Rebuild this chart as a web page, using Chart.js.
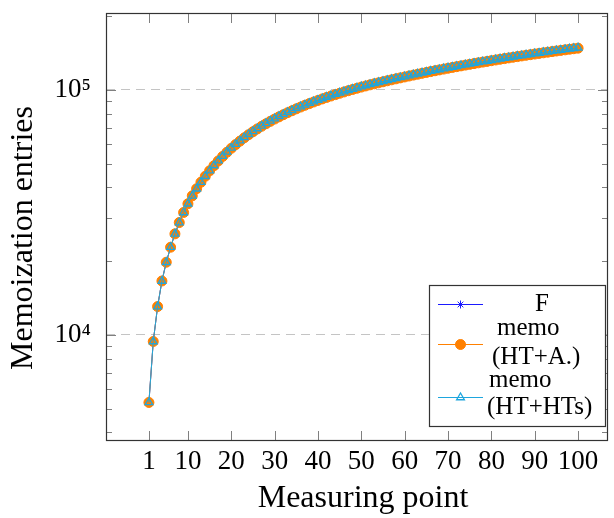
<!DOCTYPE html>
<html>
<head>
<meta charset="utf-8">
<script src="https://cdn.jsdelivr.net/npm/chart.js@4/dist/chart.umd.min.js"></script>
<style>
  body { margin: 0; background: #fff; }
  canvas { display: block; }
</style>
</head>
<body>
<canvas id="chart" width="614" height="518"></canvas>
<script>
// measuring points 1..100
const measurePoints = [
  1, 2, 3, 4, 5, 6, 7, 8, 9, 10, 11, 12, 13, 14, 15, 16, 17, 18, 19, 20,
  21, 22, 23, 24, 25, 26, 27, 28, 29, 30, 31, 32, 33, 34, 35, 36, 37, 38, 39, 40,
  41, 42, 43, 44, 45, 46, 47, 48, 49, 50, 51, 52, 53, 54, 55, 56, 57, 58, 59, 60,
  61, 62, 63, 64, 65, 66, 67, 68, 69, 70, 71, 72, 73, 74, 75, 76, 77, 78, 79, 80,
  81, 82, 83, 84, 85, 86, 87, 88, 89, 90, 91, 92, 93, 94, 95, 96, 97, 98, 99, 100
];

// memo (HT+HTs)
const htsEntries = [
  5300, 9400, 13050, 16600, 19800, 22800, 25850, 28750, 31600, 34300,
  36950, 39500, 42000, 44420, 46800, 49150, 51420, 53650, 55830, 57950,
  60020, 62040, 64000, 65920, 67780, 69590, 71340, 73050, 74720, 76340,
  77940, 79500, 81040, 82540, 84020, 85460, 86880, 88260, 89620, 90940,
  92250, 93530, 94800, 96040, 97270, 98470, 99660, 100820, 101970, 103090,
  104200, 105280, 106310, 107340, 108360, 109390, 110390, 111400, 112400, 113390,
  114390, 115370, 116340, 117320, 118290, 119250, 120210, 121150, 122100, 123040,
  123970, 124900, 125820, 126730, 127650, 128550, 129460, 130350, 131230, 132120,
  133000, 133870, 134740, 135600, 136450, 137300, 138150, 138980, 139820, 140640,
  141460, 142280, 143090, 143890, 144700, 145490, 146270, 147060, 147840, 148610
];

// F (hidden under the memo series in the picture)
const fEntries = htsEntries.slice();

// memo (HT+A.)
const htaEntries = [
  5300, 9400, 13050, 16600, 19800, 22800, 25850, 28750, 31600, 34300,
  36950, 39500, 42000, 44400, 46750, 49050, 51300, 53500, 55650, 57750,
  59800, 61800, 63750, 65650, 67500, 69300, 71050, 72750, 74410, 76030,
  77620, 79180, 80710, 82210, 83680, 85120, 86530, 87910, 89260, 90580,
  91880, 93160, 94420, 95660, 96880, 98080, 99260, 100420, 101560, 102680,
  103780, 104860, 105890, 106910, 107930, 108950, 109950, 110960, 111950, 112940,
  113930, 114910, 115880, 116850, 117820, 118770, 119730, 120670, 121610, 122550,
  123480, 124400, 125320, 126230, 127140, 128040, 128940, 129830, 130710, 131590,
  132470, 133340, 134200, 135060, 135910, 136750, 137600, 138430, 139260, 140080,
  140900, 141710, 142520, 143320, 144120, 144910, 145690, 146470, 147250, 148020
];

const xTicks = [1, 10, 20, 30, 40, 50, 60, 70, 80, 90, 100];
const yTicks = [10000, 100000];
const yTickLabels = ['10⁴', '10⁵'];
const yMinorTicks = [4000, 5000, 6000, 7000, 8000, 9000,
  20000, 30000, 40000, 50000, 60000, 70000, 80000, 90000, 200000];

const seriesNames = [['F'], ['memo', '(HT+A.)'], ['memo', '(HT+HTs)']];
const xTitle = 'Measuring point';
const yTitle = 'Memoization entries';

const serif = "'Liberation Serif', 'DejaVu Serif', serif";

function toPoints(vals) {
  return measurePoints.map((m, i) => ({x: m, y: vals[i]}));
}

const datasets = [
  {
    label: 'F',
    data: toPoints(fEntries),
    borderColor: '#1a1aff',
    backgroundColor: '#1a1aff',
    borderWidth: 1,
    pointStyle: 'star',
    pointRadius: 4,
    pointBorderWidth: 1,
    order: 3
  },
  {
    label: 'memo (HT+A.)',
    data: toPoints(htaEntries),
    borderColor: '#ff8000',
    backgroundColor: '#ff8000',
    borderWidth: 1,
    pointStyle: 'circle',
    pointRadius: 5,
    pointBorderWidth: 1,
    order: 2
  },
  {
    label: 'memo (HT+HTs)',
    data: toPoints(htsEntries),
    borderColor: '#1ea6de',
    backgroundColor: 'rgba(255,255,255,0)',
    borderWidth: 1,
    pointStyle: 'triangle',
    pointRadius: 4.5,
    pointBorderWidth: 1.3,
    order: 1
  }
];

// axis frame, inside ticks, titles and the legend box
const framePlugin = {
  id: 'framePlugin',
  beforeDatasetsDraw(chart) {
    const {ctx, chartArea: a, scales: {x, y}} = chart;
    ctx.save();
    ctx.strokeStyle = '#808080';
    ctx.lineWidth = 1;
    ctx.beginPath();
    xTicks.forEach(v => {
      const px = Math.round(x.getPixelForValue(v)) + 0.5;
      ctx.moveTo(px, a.bottom); ctx.lineTo(px, a.bottom - 10);
      ctx.moveTo(px, a.top); ctx.lineTo(px, a.top + 10);
    });
    yTicks.forEach(v => {
      const py = Math.round(y.getPixelForValue(v)) + 0.5;
      ctx.moveTo(a.left, py); ctx.lineTo(a.left + 10, py);
      ctx.moveTo(a.right, py); ctx.lineTo(a.right - 10, py);
    });
    yMinorTicks.forEach(v => {
      const py = Math.round(y.getPixelForValue(v)) + 0.5;
      ctx.moveTo(a.left, py); ctx.lineTo(a.left + 6, py);
      ctx.moveTo(a.right, py); ctx.lineTo(a.right - 6, py);
    });
    ctx.stroke();
    ctx.restore();
  },
  afterDraw(chart) {
    const {ctx, chartArea: a} = chart;
    ctx.save();
    ctx.strokeStyle = '#333';
    ctx.lineWidth = 1.2;
    ctx.strokeRect(a.left + 0.5, a.top + 0.5, a.right - a.left - 1, a.bottom - a.top - 1);

    ctx.fillStyle = '#000';
    ctx.font = '32px ' + serif;
    ctx.textAlign = 'center';
    ctx.textBaseline = 'middle';
    ctx.fillText(xTitle, (a.left + a.right) / 2 + 6, 499);
    ctx.translate(24, 238);
    ctx.rotate(-Math.PI / 2);
    ctx.fillText(yTitle, 0, 0);
    ctx.restore();

    // legend
    ctx.save();
    const box = {l: 429.5, t: 285.5, r: 605.5, b: 426.5};
    ctx.fillStyle = '#fff';
    ctx.fillRect(box.l, box.t, box.r - box.l, box.b - box.t);
    ctx.strokeStyle = '#333';
    ctx.lineWidth = 1.2;
    ctx.strokeRect(box.l, box.t, box.r - box.l, box.b - box.t);

    const rows = [
      {lineY: 304, text: [[535, 304]]},
      {lineY: 344, text: [[497, 328], [492, 357]]},
      {lineY: 397, text: [[489, 380], [487, 407]]}
    ];
    rows.forEach((row, i) => {
      const ds = datasets[i];
      ctx.strokeStyle = ds.borderColor;
      ctx.lineWidth = 1;
      ctx.beginPath();
      ctx.moveTo(438, row.lineY + 0.5);
      ctx.lineTo(483, row.lineY + 0.5);
      ctx.stroke();
      ctx.fillStyle = ds.backgroundColor;
      ctx.strokeStyle = ds.borderColor;
      ctx.lineWidth = ds.pointBorderWidth;
      Chart.helpers.drawPoint(ctx, {
        pointStyle: ds.pointStyle,
        radius: ds.pointRadius,
        borderWidth: ds.pointBorderWidth,
        rotation: 0
      }, 460.5, row.lineY + 0.5);

      ctx.fillStyle = '#000';
      ctx.font = '25px ' + serif;
      ctx.textAlign = 'left';
      ctx.textBaseline = 'middle';
      seriesNames[i].forEach((line, j) => {
        ctx.fillText(line, row.text[j][0], row.text[j][1]);
      });
    });
    ctx.restore();
  }
};

new Chart(document.getElementById('chart'), {
  type: 'line',
  data: {datasets: datasets},
  options: {
    responsive: false,
    animation: false,
    layout: {padding: {top: 13, right: 5, left: 0, bottom: 0}},
    plugins: {legend: {display: false}, tooltip: {enabled: false}},
    scales: {
      x: {
        type: 'linear',
        min: -8.9,
        max: 106.9,
        afterBuildTicks: s => { s.ticks = xTicks.map(v => ({value: v})); },
        afterFit: s => { s.height = 77; s.paddingLeft = 0; s.paddingRight = 0; },
        ticks: {
          autoSkip: false,
          maxRotation: 0,
          padding: 5,
          color: '#000',
          font: {family: serif, size: 27},
          callback: v => String(v)
        },
        grid: {display: false, drawTicks: false},
        border: {display: false}
      },
      y: {
        type: 'logarithmic',
        min: 3690,
        max: 206000,
        afterBuildTicks: s => { s.ticks = yTicks.map(v => ({value: v})); },
        afterFit: s => { s.width = 106; s.paddingTop = 0; s.paddingBottom = 0; },
        ticks: {
          padding: 15,
          color: '#000',
          font: {family: serif, size: 27},
          callback: v => {
            const i = yTicks.indexOf(v);
            return i >= 0 ? yTickLabels[i] : '';
          }
        },
        grid: {
          color: '#c4c4c4',
          lineWidth: 1,
          drawTicks: false,
          tickBorderDash: [9, 6]
        },
        border: {display: false, dash: [9, 6]}
      }
    }
  },
  plugins: [framePlugin]
});
</script>
</body>
</html>
